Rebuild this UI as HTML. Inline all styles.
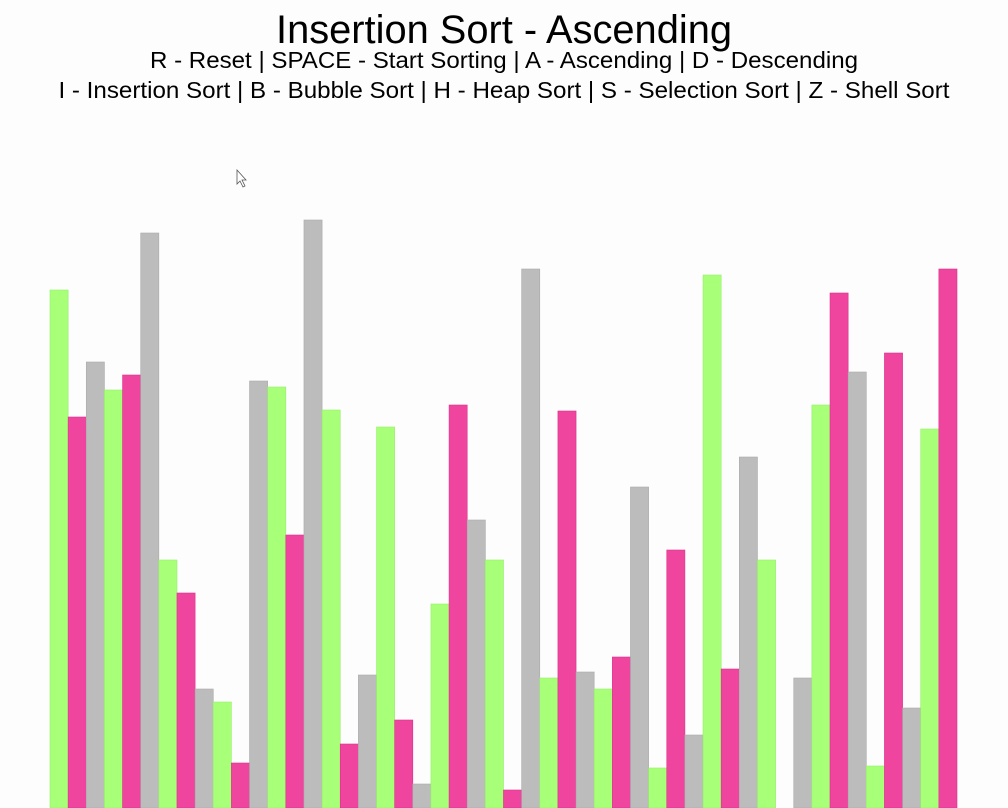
<!DOCTYPE html>
<html><head><meta charset="utf-8"><style>
html,body{margin:0;padding:0;background:#fdfdfd;}
svg{display:block;font-family:"Liberation Sans",Arial,sans-serif;}
</style></head><body>
<svg id="chart" width="1008" height="808" viewBox="0 0 1008 808">
<rect x="0" y="0" width="1008" height="808" fill="#fdfdfd"/>
<text x="504" y="43" font-size="40" text-anchor="middle" textLength="456" lengthAdjust="spacingAndGlyphs" fill="#000">Insertion Sort - Ascending</text>
<text x="504" y="68" font-size="23" text-anchor="middle" textLength="708" lengthAdjust="spacingAndGlyphs" fill="#000">R - Reset | SPACE - Start Sorting | A - Ascending | D - Descending</text>
<text x="504" y="98" font-size="23" text-anchor="middle" textLength="891" lengthAdjust="spacingAndGlyphs" fill="#000">I - Insertion Sort | B - Bubble Sort | H - Heap Sort | S - Selection Sort | Z - Shell Sort</text>
<path d="M237 170 L237 184 L240 181 L243 187 L245 186 L242 180 L246 180 Z" fill="#fff" stroke="#555" stroke-width="0.8"/>
<g id="bars"></g>
</svg>
<script>
// bar heights in pixels above baseline (values)
const values = [518,391,446,418,433,575,248,215,119,106,45,427,421,273,588,398,64,133,381,88,24,204,403,288,248,18,539,130,397,136,119,151,321,40,258,73,533,139,351,248,0,130,403,515,436,42,455,100,379,539];
const colorIndex = [0,1,2,0,1,2,0,1,2,0,1,2,0,1,2,0,1,2,0,1,2,0,1,2,0,1,2,0,1,2,0,1,2,0,1,2,0,1,2,0,1,2,0,1,2,0,1,2,0,1];
const palette = ["#a8ff78","#f0459f","#bdbcbc"];
const strokes = ["#98ee6a","#d8338b","#aaaaaa"];
const x0=50, x1=957, baseY=808;
const bw=(x1-x0)/values.length;
function xScale(i){return x0+i*bw;}
function yScale(v){return baseY-v;}
const g=document.getElementById('bars');
values.forEach((v,i)=>{
  if(v<=0) return;
  const r=document.createElementNS('http://www.w3.org/2000/svg','rect');
  r.setAttribute('x',xScale(i));
  r.setAttribute('y',yScale(v));
  r.setAttribute('width',bw);
  r.setAttribute('height',v);
  r.setAttribute('fill',palette[colorIndex[i]]);
  r.setAttribute('stroke',strokes[colorIndex[i]]);
  r.setAttribute('stroke-width','0.6');
  
  
  g.appendChild(r);
});
</script>
</body></html>
